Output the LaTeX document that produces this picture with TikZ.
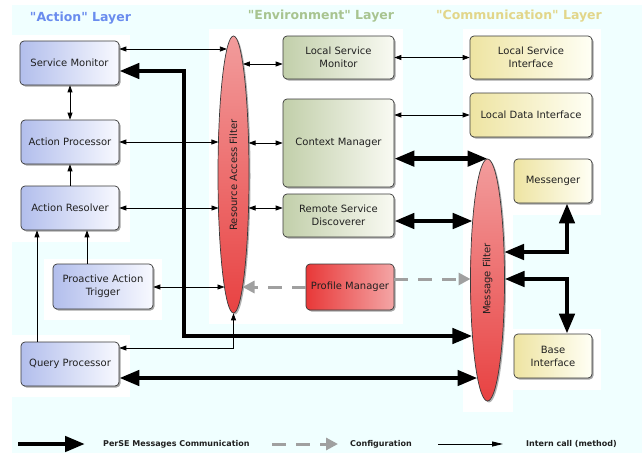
\documentclass[tikz,border=0pt]{standalone}
\usepackage{fontspec}
\setmainfont{DejaVu Sans}
\usetikzlibrary{arrows.meta,shadows,shapes.geometric,calc}
\definecolor{bgcyan}{HTML}{F0FFFF}
\definecolor{actL}{HTML}{B2BEEC}
\definecolor{actR}{HTML}{F8F9FF}
\definecolor{envL}{HTML}{C2CFAA}
\definecolor{envR}{HTML}{F9FAF3}
\definecolor{comL}{HTML}{EEE4A2}
\definecolor{comR}{HTML}{FFFFF5}
\definecolor{pmL}{HTML}{E83838}
\definecolor{pmR}{HTML}{F4A6A6}
\definecolor{ellTop}{HTML}{F29C9C}
\definecolor{ellBot}{HTML}{E84242}
\definecolor{bordercol}{HTML}{3A3A3A}
\definecolor{textcol}{HTML}{202020}
\definecolor{actTitle}{HTML}{6A8CEE}
\definecolor{envTitle}{HTML}{A8C490}
\definecolor{comTitle}{HTML}{E2D68A}
\definecolor{cfggray}{HTML}{A0A0A0}
\begin{document}
\begin{tikzpicture}[x=1pt,y=-1pt,
  box/.style={draw=bordercol, line width=0.7pt, rounded corners=4pt, align=center,
    font=\fontsize{10}{13}\selectfont, text=textcol, inner sep=2pt,
    drop shadow={shadow xshift=1.5pt, shadow yshift=-1.5pt, opacity=0.35, fill=black}},
  actbox/.style={box, left color=actL, right color=actR},
  envbox/.style={box, left color=envL, right color=envR},
  combox/.style={box, left color=comL, right color=comR},
  pmbox/.style={box, left color=pmL, right color=pmR},
  filterell/.style={ellipse, draw=bordercol, line width=0.7pt, inner sep=0pt,
    top color=ellTop, bottom color=ellBot,
    drop shadow={shadow xshift=1.5pt, shadow yshift=-1.5pt, opacity=0.3, fill=black}},
  filtertext/.style={rotate=90, font=\fontsize{10}{12}\selectfont, text=textcol},
  title/.style={font=\fontsize{12.5}{14}\selectfont\bfseries},
  legendtext/.style={font=\fontsize{8}{10}\selectfont\bfseries, text=textcol, anchor=west, inner sep=0pt},
  icall/.style={line width=0.8pt, black},
  icb/.style={icall, {Triangle[length=7pt,width=5pt]}-{Triangle[length=7pt,width=5pt]}},
  ict/.style={icall, -{Triangle[length=7pt,width=5pt]}},
  msg/.style={line width=4.5pt, black, {Triangle[length=20pt,width=15pt]}-{Triangle[length=20pt,width=15pt]}},
  msgto/.style={line width=4.5pt, black, -{Triangle[length=20pt,width=15pt]}},
  cfg/.style={line width=3pt, cfggray, dash pattern=on 14pt off 10pt, -{Triangle[length=12pt,width=12pt]}}
]
\useasboundingbox (0,0) rectangle (642,455);
% background and panels
\fill[bgcyan] (12,5) rectangle (642,453);
\fill[white] (12,35) rectangle (130,242);
\fill[white] (44,259) rectangle (162,320);
\fill[white] (12,335) rectangle (130,397);
\fill[white] (209,29) rectangle (403,324);
\fill[white] (463,29) rectangle (601,150);
\fill[white] (463,150) rectangle (513,412);
\fill[white] (513,150) rectangle (601,215);
\fill[white] (513,329) rectangle (601,390);

% titles
\node[title, text=actTitle] (tAct) at (80.5,18) {\textquotedbl Action\textquotedbl\ Layer};
\node[title, text=envTitle] (tEnv) at (321,16) {\textquotedbl Environment\textquotedbl\ Layer};
\node[title, text=comTitle] (tCom) at (519,16) {\textquotedbl Communication\textquotedbl\ Layer};

% action layer
\node[actbox, minimum width=99pt, minimum height=44pt] (SM) at (69.5,63) {Service Monitor};
\node[actbox, minimum width=98pt, minimum height=44pt] (AP) at (70,142) {Action Processor};
\node[actbox, minimum width=98pt, minimum height=44pt] (AR) at (70,208) {Action Resolver};
\node[actbox, minimum width=100pt, minimum height=45pt] (PAT) at (103,286.5) {Proactive Action\\Trigger};
\node[actbox, minimum width=98pt, minimum height=44pt] (QP) at (70,364) {Query Processor};

% resource access filter
\node[filterell, minimum width=31pt, minimum height=277pt] (RAF) at (233.5,174.5) {};
\node[filtertext] (RAFt) at (233.5,175) {Resource Access Filter};

% environment layer
\node[envbox, minimum width=111pt, minimum height=43pt] (LSM) at (338.5,57.5) {Local Service\\Monitor};
\node[envbox, minimum width=111pt, minimum height=88pt] (CM) at (338.5,143) {Context Manager};
\node[envbox, minimum width=111pt, minimum height=43pt] (RSD) at (338.5,215.5) {Remote Service\\Discoverer};
\node[pmbox, minimum width=88pt, minimum height=46pt] (PM) at (350,287) {Profile Manager};

% communication layer
\node[combox, minimum width=122pt, minimum height=43pt] (LSI) at (531,57.5) {Local Service\\Interface};
\node[combox, minimum width=122pt, minimum height=44pt] (LDI) at (531,115) {Local Data Interface};
\node[combox, minimum width=78pt, minimum height=44pt] (MES) at (553,181) {Messenger};
\node[combox, minimum width=78pt, minimum height=44pt] (BI) at (553,356) {Base\\Interface};

% message filter
\node[filterell, minimum width=34pt, minimum height=242pt] (MF) at (487.5,280) {};
\node[filtertext] (MFt) at (487.5,279) {Message Filter};

% points on the filters
\coordinate (r1) at (226.9,49);
\coordinate (r2) at (242.9,64);
\coordinate (r3) at (218.4,142);
\coordinate (r4) at (248.6,143);
\coordinate (r5) at (218.5,208);
\coordinate (r6) at (248.5,208);
\coordinate (r7) at (224.5,287);
\coordinate (r8) at (242.5,287);
\coordinate (q1) at (233.5,348);
\coordinate (m2) at (472.7,221);
\coordinate (m3) at (504,252);
\coordinate (m4) at (504.5,279);
\coordinate (m5) at (470.5,279);
\coordinate (m6) at (472.4,336);
\coordinate (m7) at (477.5,378);
\coordinate (c1) at (184,71);
\coordinate (c2) at (184,336);
\coordinate (v1) at (567,252);
\coordinate (v2) at (567,279);

% intern calls
\draw[icb] (SM.east |- r1) -- (r1);
\draw[icb] (r2) -- (LSM.west |- r2);
\draw[icb] (SM.south -| AP.north) -- (AP.north);
\draw[icb] (AP.east |- r3) -- (r3);
\draw[icb] (r4) -- (CM.west |- r4);
\draw[ict] (AR.north) -- (AP.south);
\draw[icb] (AR.east |- r5) -- (r5);
\draw[icb] (r6) -- (RSD.west |- r6);
\draw[ict] ([xshift=-16pt]PAT.north) -- ([xshift=-16pt]PAT.north |- AR.south);
\draw[ict] ([xshift=-33pt]QP.north) -- ([xshift=-33pt]QP.north |- AR.south);
\draw[icb] (PAT.east |- r7) -- (r7);
\draw[icb] (QP.east |- q1) -- (q1) -- (RAF.south);
\draw[icb] (LSM.east) -- (LSI.west);
\draw[icb] (CM.east |- LDI.west) -- (LDI.west);

% messages
\draw[msg] (SM.east |- c1) -- (c1) -- (c2) -- (m6);
\draw[msg] (CM.east |- MF.north) -- (MF.north);
\draw[msg] (RSD.east |- m2) -- (m2);
\draw[msg] (MES.south -| v1) -- (v1) -- (m3);
\draw[msg] (m4) -- (v2) -- (BI.north -| v2);
\draw[msg] (QP.east |- m7) -- (m7);

% configuration
\draw[cfg] (PM.west |- r8) -- (r8);
\draw[cfg] (PM.east |- m5) -- (m5);

% legend
\coordinate (la) at (18,444);
\coordinate (lb) at (85,444);
\coordinate (lc) at (272,444);
\coordinate (ld) at (338,444);
\coordinate (le) at (438,444);
\coordinate (lf) at (503,444);
\draw[msgto] (la) -- (lb);
\node[legendtext] (lt1) at (103,444) {PerSE Messages Communication};
\draw[cfg] (lc) -- (ld);
\node[legendtext] (lt2) at (350,444) {Configuration};
\draw[icall, -{Triangle[length=11pt,width=5pt]}] (le) -- (lf);
\node[legendtext] (lt3) at (526,444) {Intern call (method)};
\end{tikzpicture}
\end{document}
